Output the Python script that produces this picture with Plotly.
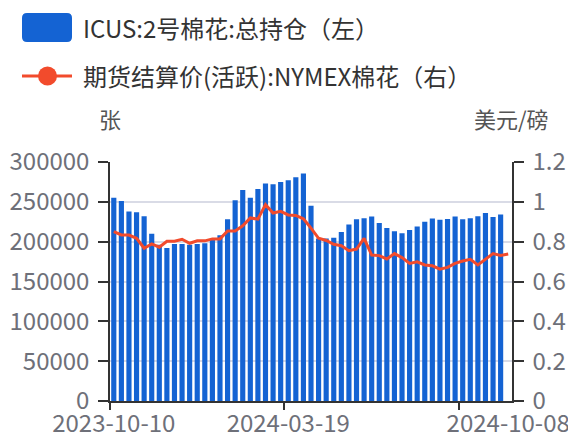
import pandas as pd
import plotly.graph_objects as go

# weekly dates (Tuesdays)
dates = pd.date_range('2023-10-10', '2024-10-08', freq='7D')

# ICUS:2号棉花:总持仓 (张)
open_interest = [
	255000, 251000, 238000, 237000, 232000, 210000, 196000, 192000, 197000, 197000,
	196000, 197000, 198000, 202000, 208000, 228000, 252000, 265000, 255000, 266000,
	273000, 272000, 275000, 277000, 281000, 285500, 245000, 204000, 204000, 205000,
	212000, 221500, 228000, 229500, 231500, 223500, 217000, 213000, 210500, 214500,
	219000, 225000, 229000, 227500, 228500, 231500, 228000, 229500, 232000, 236000,
	231000, 234000, None,
]

# 期货结算价(活跃):NYMEX棉花 (美元/磅)
price = [
	0.851, 0.834, 0.833, 0.817, 0.767, 0.789, 0.772, 0.802, 0.802, 0.812,
	0.792, 0.804, 0.804, 0.814, 0.814, 0.854, 0.854, 0.880, 0.919, 0.913,
	0.986, 0.944, 0.952, 0.934, 0.932, 0.915, 0.868, 0.817, 0.806, 0.787,
	0.780, 0.755, 0.763, 0.817, 0.733, 0.730, 0.713, 0.740, 0.720, 0.691,
	0.699, 0.683, 0.679, 0.662, 0.671, 0.691, 0.703, 0.711, 0.683, 0.713,
	0.740, 0.731, 0.738,
]

x_labels = ['2023-10-10', '2024-03-19', '2024-10-08']
x_boundary_ticks = ['2023-10-10', '2024-03-19', '2024-08-27']
left_ticks = [0, 50000, 100000, 150000, 200000, 250000, 300000]
right_ticks = [0, 0.2, 0.4, 0.6, 0.8, 1.0, 1.2]
right_text = ['0', '0.2', '0.4', '0.6', '0.8', '1', '1.2']

name_bar = 'ICUS:2号棉花:总持仓（左）'
name_line = '期货结算价(活跃):NYMEX棉花（右）'

BLUE = '#1463d3'
RED = '#f24b2c'
FONT = 'Noto Sans CJK SC'
TICK_COLOR = '#6e7079'
AXIS_COLOR = '#333333'

# the page body has an 8px margin, so the figure is shrunk to fit the window
OFF = 8
W, H = 576 - OFF, 439 - OFF
L, R, T, B = 110 - OFF, 64, 162 - OFF, 38

def px(x):
	# page pixel -> paper x
	return (x - OFF - L) / (W - L - R)

def py(y):
	# page pixel -> paper y
	return (H - B - (y - OFF)) / (H - T - B)

half_week = pd.Timedelta(days=3.5)

fig = go.Figure()

fig.add_trace(go.Bar(
	x=dates, y=open_interest,
	marker=dict(color=BLUE, line=dict(width=0)),
	name=name_bar,
))
fig.add_trace(go.Scatter(
	x=dates, y=price,
	mode='lines',
	line=dict(color=RED, width=3),
	name=name_line,
	yaxis='y2',
))

# legend drawn by hand so the symbols match
x0, x1, y0, y1 = px(22), px(72), py(13), py(42)
rx = 5 / (W - L - R)
ry = 5 / (H - T - B)
path = (f'M {x0 + rx},{y0} L {x1 - rx},{y0} Q {x1},{y0} {x1},{y0 - ry} '
	f'L {x1},{y1 + ry} Q {x1},{y1} {x1 - rx},{y1} L {x0 + rx},{y1} '
	f'Q {x0},{y1} {x0},{y1 + ry} L {x0},{y0 - ry} Q {x0},{y0} {x0 + rx},{y0} Z')
shapes = [
	dict(type='path', xref='paper', yref='paper', path=path,
		fillcolor=BLUE, line=dict(width=0)),
	dict(type='line', xref='paper', yref='paper',
		x0=px(22), x1=px(72), y0=py(76), y1=py(76),
		line=dict(color=RED, width=3)),
	dict(type='circle', xref='paper', yref='paper',
		x0=px(38), x1=px(57), y0=py(66.5), y1=py(85.5),
		fillcolor=RED, line=dict(width=0)),
]

annotations = [
	dict(text=name_bar, x=px(81), y=py(27), xref='paper', yref='paper',
		xanchor='left', yanchor='middle', showarrow=False,
		font=dict(size=24, color='#333333', family=FONT)),
	dict(text=name_line, x=px(81), y=py(75), xref='paper', yref='paper',
		xanchor='left', yanchor='middle', showarrow=False,
		font=dict(size=24, color='#333333', family=FONT)),
	dict(text='张', x=px(110), y=py(118), xref='paper', yref='paper',
		xanchor='center', yanchor='middle', showarrow=False,
		font=dict(size=22, color='#555555', family=FONT)),
	dict(text='美元/磅', x=px(511), y=py(118), xref='paper', yref='paper',
		xanchor='center', yanchor='middle', showarrow=False,
		font=dict(size=22, color='#555555', family=FONT)),
]

fig.update_layout(
	width=W, height=H,
	margin=dict(l=L, r=R, t=T, b=B),
	paper_bgcolor='white',
	plot_bgcolor='white',
	showlegend=False,
	bargap=0.32,
	font=dict(family=FONT, size=24, color=TICK_COLOR),
	xaxis=dict(
		type='date',
		range=[dates[0] - half_week, dates[-1] + half_week],
		tickvals=x_labels,
		ticktext=x_labels,
		ticks='',
		minor=dict(
			tickvals=[pd.Timestamp(d) - half_week for d in x_boundary_ticks],
			ticks='outside', ticklen=7, tickcolor=AXIS_COLOR, tickwidth=1.5,
			showgrid=False,
		),
		showline=True, linecolor=AXIS_COLOR, linewidth=1.5,
		showgrid=False,
		tickangle=0,
		automargin=False,
	),
	yaxis=dict(
		range=[0, 300000],
		tickvals=left_ticks,
		ticktext=[str(v) for v in left_ticks],
		ticks='outside', ticklen=10, tickcolor=AXIS_COLOR, tickwidth=1.5,
		showline=True, linecolor=AXIS_COLOR, linewidth=1.5,
		gridcolor='#d9dbe6', gridwidth=1.5,
		zeroline=False,
		ticklabelstandoff=4,
		automargin=False,
	),
	yaxis2=dict(
		overlaying='y', side='right',
		range=[0, 1.2],
		tickvals=right_ticks, ticktext=right_text,
		ticks='outside', ticklen=10, tickcolor=AXIS_COLOR, tickwidth=1.5,
		showline=True, linecolor=AXIS_COLOR, linewidth=1.5,
		showgrid=False, zeroline=False,
		ticklabelstandoff=4,
		automargin=False,
	),
	shapes=shapes,
	annotations=annotations,
)

fig.write_html('out.html')
